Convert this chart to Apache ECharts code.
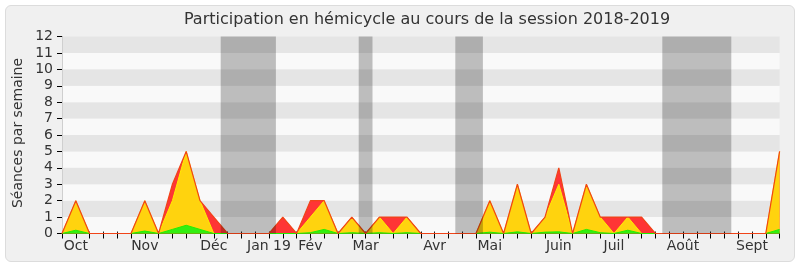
<!DOCTYPE html>
<html><head><meta charset="utf-8">
<script src="https://cdn.jsdelivr.net/npm/echarts@6/dist/echarts.min.js"></script>
<style>
html,body{margin:0;padding:0;background:#fff;}
#frame{position:absolute;left:5px;top:5px;width:788px;height:255px;border:1px solid #dcdcdc;border-radius:6px;background:#f0f0f0;}
#c{position:absolute;left:0;top:0;width:800px;height:267px;}
</style></head>
<body><div id="frame"></div><div id="c"></div>
<script>
const weekLabels = ['', 'Oct', '', '', '', '', 'Nov', '', '', '', '', 'Déc', '', '', '', 'Jan 19', '', '', 'Fév', '', '', '', 'Mar', '', '', '', '', 'Avr', '', '', '', 'Mai', '', '', '', '', 'Juin', '', '', '', 'Juil', '', '', '', '', 'Août', '', '', '', '', 'Sept', '', ''];
// total sessions per week (red)
const seances = [0,2,0,0,0,0,2,0,3,5,2,1,0,0,0,0,1,0,2,2,0,1,0,1,1,1,0,0,0,0,0,2,0,3,0,1,4,0,3,1,1,1,1,0,0,0,0,0,0,0,0,0,5];
// presences (yellow)
const presences = [0,2,0,0,0,0,2,0,2,5,2,0,0,0,0,0,0,0,1,2,0,1,0,1,0,1,0,0,0,0,0,2,0,3,0,1,3,0,3,1,0,1,0,0,0,0,0,0,0,0,0,0,5];
// interventions (green)
const interventions = [0,0.2,0,0,0,0,0.15,0,0.25,0.5,0.25,0,0,0,0,0,0,0,0.05,0.25,0,0.05,0,0.05,0,0.05,0,0,0,0,0,0.08,0,0.1,0,0.08,0.1,0,0.25,0.05,0,0.2,0,0,0,0,0,0,0,0,0,0,0.25];
const vacances = [[11.5,15.5],[21.5,22.5],[28.5,30.5],[43.5,48.5]];
const yTicks = [0,1,2,3,4,5,6,7,8,9,10,11,12];

const toPts = arr => arr.map((v,i)=>[i,v]);
const FONT = 'DejaVu Sans';
const chart = echarts.init(document.getElementById('c'), null, {renderer:'canvas'});
chart.setOption({
  animation:false,
  backgroundColor:'transparent',
  textStyle:{fontFamily:FONT},
  grid:{left:62,right:20.4,top:36.5,bottom:33.5,containLabel:false},
  graphic:[
    {type:'text',x:427,y:20,style:{text:'Participation en hémicycle au cours de la session 2018-2019',font:'16px "DejaVu Sans"',fill:'#333',textAlign:'center',textVerticalAlign:'middle'}},
    {type:'text',x:18,y:133,rotation:Math.PI/2,style:{text:'Séances par semaine',font:'14px "DejaVu Sans"',fill:'#333',textAlign:'center',textVerticalAlign:'middle'}}
  ],
  xAxis:[{
    type:'value',min:0,max:weekLabels.length-1,interval:1,
    axisLine:{show:true,onZero:false,lineStyle:{color:'#000',width:1}},
    axisTick:{show:true,length:5,lineStyle:{color:'#000'}},
    axisLabel:{show:true,margin:6,fontSize:14,color:'#333',fontFamily:FONT,showMinLabel:true,showMaxLabel:true,formatter:v=>weekLabels[v]||''},
    splitLine:{show:false}
  },{
    type:'value',position:'top',min:0,max:weekLabels.length-1,interval:1,
    axisLine:{show:false},axisTick:{show:true,length:2,lineStyle:{color:'#222'}},
    axisLabel:{show:false},splitLine:{show:false}
  }],
  yAxis:[{
    type:'value',min:0,max:12,interval:1,
    axisLine:{show:true,lineStyle:{color:'#000'}},
    axisTick:{show:true,length:5,lineStyle:{color:'#000'}},
    axisLabel:{margin:9,fontSize:14,color:'#333',fontFamily:FONT,formatter:v=>yTicks.includes(v)?String(v):''},
    splitLine:{show:false},
    splitArea:{show:true,areaStyle:{color:['#f9f9f9','#e5e5e5']}}
  },{
    type:'value',position:'right',min:0,max:12,interval:1,
    axisLine:{show:true,lineStyle:{color:'#cfcfcf'}},axisTick:{show:false},axisLabel:{show:false},splitLine:{show:false}
  }],
  series:[
    {type:'line',name:'Séances',data:toPts(seances),symbol:'none',z:2,
     lineStyle:{width:0},areaStyle:{color:'#ff3535',opacity:1}},
    {type:'line',name:'Présences',data:toPts(presences),symbol:'none',z:3,
     lineStyle:{color:'#ffee00',width:1},areaStyle:{color:'#ffd30e',opacity:1}},
    {type:'line',name:'Interventions',data:toPts(interventions),symbol:'none',z:4,
     lineStyle:{color:'#22ee00',width:1},areaStyle:{color:'#33ee11',opacity:1}},
    {type:'line',name:'Total',data:toPts(seances),symbol:'none',z:5,
     lineStyle:{color:'#f04418',width:1.2}},
    {type:'line',name:'Vacances',data:[],z:6,
     markArea:{silent:true,z:6,itemStyle:{color:'rgba(0,0,0,0.24)'},
       data:vacances.map(v=>[{xAxis:v[0]},{xAxis:v[1]}])}}
  ]
});
</script></body></html>
